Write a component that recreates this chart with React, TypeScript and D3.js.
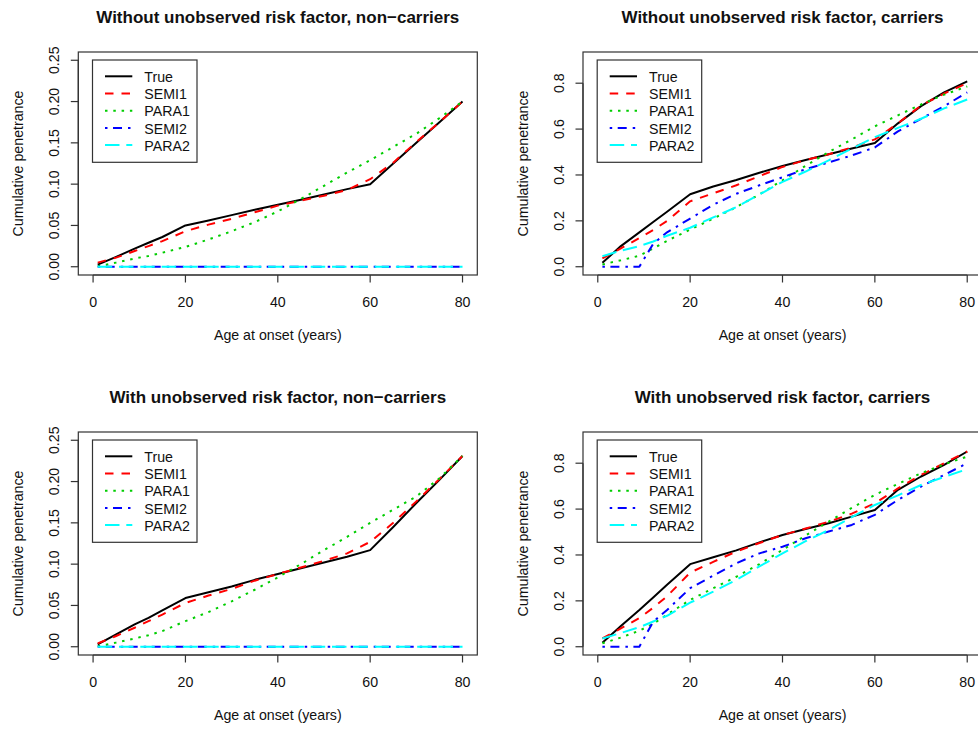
import React, { useEffect } from "react";
import * as d3 from "d3";

// ---------- DATA ----------
const AGES = [1, 5, 9, 12, 15, 20, 25, 30, 35, 40, 45, 50, 55, 60, 65, 70, 75, 80];
const SERIES_NAMES = ["True", "SEMI1", "PARA1", "SEMI2", "PARA2"];
const X_TICKS = [0, 20, 40, 60, 80];
const Y_TICKS_NC = [0, 0.05, 0.1, 0.15, 0.2, 0.25];
const Y_TICKS_C = [0, 0.2, 0.4, 0.6, 0.8];
const X_RANGE = [0, 80];
const Y_RANGE_NC = [0, 0.25];
const Y_RANGE_C = [0, 0.9];

const TITLES = [
  "Without unobserved risk factor, non\u2212carriers",
  "Without unobserved risk factor, carriers",
  "With unobserved risk factor, non\u2212carriers",
  "With unobserved risk factor, carriers",
];
const X_LABEL = "Age at onset (years)";
const Y_LABEL = "Cumulative penetrance";

// Panel 1: without unobserved risk factor, non-carriers
const WO_NC_TRUE = [0.0025, 0.012, 0.022, 0.029, 0.036, 0.05, 0.056, 0.0625, 0.069, 0.075, 0.081, 0.0875, 0.094, 0.1, 0.125, 0.15, 0.175, 0.2];
const WO_NC_SEMI1 = [0.005, 0.011, 0.019, 0.025, 0.031, 0.043, 0.051, 0.058, 0.066, 0.074, 0.08, 0.086, 0.093, 0.106, 0.126, 0.151, 0.175, 0.2];
const WO_NC_PARA1 = [0.0005, 0.005, 0.01, 0.013, 0.017, 0.024, 0.033, 0.043, 0.054, 0.067, 0.082, 0.098, 0.114, 0.129, 0.145, 0.161, 0.18, 0.2];
const WO_NC_SEMI2 = [0, 0, 0, 0, 0, 0, 0, 0, 0, 0, 0, 0, 0, 0, 0, 0, 0, 0];
const WO_NC_PARA2 = [0, 0, 0, 0, 0, 0, 0, 0, 0, 0, 0, 0, 0, 0, 0, 0, 0, 0];

// Panel 2: without unobserved risk factor, carriers
const WO_C_TRUE = [0.017, 0.09, 0.15, 0.195, 0.24, 0.316, 0.35, 0.378, 0.41, 0.439, 0.465, 0.49, 0.515, 0.539, 0.625, 0.7, 0.76, 0.808];
const WO_C_SEMI1 = [0.036, 0.08, 0.125, 0.16, 0.2, 0.285, 0.32, 0.355, 0.395, 0.435, 0.465, 0.49, 0.52, 0.555, 0.625, 0.703, 0.755, 0.8];
const WO_C_PARA1 = [0.01, 0.028, 0.048, 0.08, 0.113, 0.162, 0.21, 0.26, 0.315, 0.377, 0.44, 0.5, 0.555, 0.612, 0.66, 0.707, 0.75, 0.786];
const WO_C_SEMI2 = [0, 0, 0, 0.1, 0.15, 0.21, 0.27, 0.318, 0.355, 0.39, 0.425, 0.455, 0.485, 0.52, 0.59, 0.645, 0.7, 0.76];
const WO_C_PARA2 = [0.046, 0.07, 0.09, 0.11, 0.135, 0.17, 0.215, 0.26, 0.315, 0.37, 0.415, 0.464, 0.515, 0.565, 0.605, 0.645, 0.69, 0.729];

// Panel 3: with unobserved risk factor, non-carriers
const W_NC_TRUE = [0.003, 0.015, 0.027, 0.035, 0.044, 0.059, 0.066, 0.073, 0.081, 0.088, 0.095, 0.102, 0.109, 0.117, 0.145, 0.174, 0.202, 0.231];
const W_NC_SEMI1 = [0.004, 0.013, 0.023, 0.031, 0.039, 0.053, 0.062, 0.07, 0.08, 0.088, 0.096, 0.104, 0.113, 0.127, 0.15, 0.176, 0.203, 0.231];
const W_NC_PARA1 = [0.0005, 0.005, 0.01, 0.014, 0.019, 0.031, 0.042, 0.055, 0.069, 0.084, 0.1, 0.117, 0.133, 0.15, 0.166, 0.182, 0.204, 0.231];
const W_NC_SEMI2 = [0, 0, 0, 0, 0, 0, 0, 0, 0, 0, 0, 0, 0, 0, 0, 0, 0, 0];
const W_NC_PARA2 = [0, 0, 0, 0, 0, 0, 0, 0, 0, 0, 0, 0, 0, 0, 0, 0, 0, 0];

// Panel 4: with unobserved risk factor, carriers
const W_C_TRUE = [0.017, 0.09, 0.16, 0.215, 0.27, 0.36, 0.39, 0.42, 0.455, 0.487, 0.513, 0.538, 0.567, 0.596, 0.684, 0.742, 0.793, 0.851];
const W_C_SEMI1 = [0.036, 0.08, 0.125, 0.17, 0.22, 0.323, 0.37, 0.415, 0.452, 0.487, 0.515, 0.545, 0.58, 0.625, 0.69, 0.749, 0.8, 0.851];
const W_C_PARA1 = [0.015, 0.04, 0.07, 0.1, 0.14, 0.204, 0.255, 0.305, 0.36, 0.422, 0.485, 0.545, 0.605, 0.662, 0.71, 0.756, 0.795, 0.829];
const W_C_SEMI2 = [0, 0, 0, 0.109, 0.16, 0.255, 0.31, 0.364, 0.407, 0.436, 0.473, 0.502, 0.531, 0.575, 0.64, 0.698, 0.749, 0.8];
const W_C_PARA2 = [0.036, 0.06, 0.085, 0.11, 0.135, 0.192, 0.24, 0.291, 0.35, 0.407, 0.46, 0.509, 0.565, 0.618, 0.66, 0.705, 0.74, 0.774];

// ---------- STYLE ----------
const COLORS = ["#000000", "#FF0000", "#00CD00", "#0000FF", "#00FFFF"];
const DASHES = ["", "8.5 8", "2.5 5.8", "2.5 5.5 9 6", "14.5 6.8"];
const FONT = "'Liberation Sans', Arial, Helvetica, sans-serif";

const BOX_W = 399;
const BOX_H = 223;

type PanelDef = {
  title: string;
  bx: number;
  by: number;
  series: number[][];
  yRange: number[];
  yTicks: number[];
  digits: number;
};

const PANELS: PanelDef[] = [
  { title: TITLES[0], bx: 78.3, by: 52, series: [WO_NC_TRUE, WO_NC_SEMI1, WO_NC_PARA1, WO_NC_SEMI2, WO_NC_PARA2], yRange: Y_RANGE_NC, yTicks: Y_TICKS_NC, digits: 2 },
  { title: TITLES[1], bx: 583, by: 52, series: [WO_C_TRUE, WO_C_SEMI1, WO_C_PARA1, WO_C_SEMI2, WO_C_PARA2], yRange: Y_RANGE_C, yTicks: Y_TICKS_C, digits: 1 },
  { title: TITLES[2], bx: 78.3, by: 432, series: [W_NC_TRUE, W_NC_SEMI1, W_NC_PARA1, W_NC_SEMI2, W_NC_PARA2], yRange: Y_RANGE_NC, yTicks: Y_TICKS_NC, digits: 2 },
  { title: TITLES[3], bx: 583, by: 432, series: [W_C_TRUE, W_C_SEMI1, W_C_PARA1, W_C_SEMI2, W_C_PARA2], yRange: Y_RANGE_C, yTicks: Y_TICKS_C, digits: 1 },
];

function Panel({ p, idx }: { p: PanelDef; idx: number }) {
  const xr = X_RANGE[1] - X_RANGE[0];
  const yr = p.yRange[1] - p.yRange[0];
  const x = d3
    .scaleLinear()
    .domain([X_RANGE[0] - 0.04 * xr, X_RANGE[1] + 0.04 * xr])
    .range([p.bx, p.bx + BOX_W]);
  const y = d3
    .scaleLinear()
    .domain([p.yRange[0] - 0.04 * yr, p.yRange[1] + 0.04 * yr])
    .range([p.by + BOX_H, p.by]);
  const line = d3
    .line<number>()
    .x((_, i) => x(AGES[i]))
    .y((v) => y(v));
  const clipId = `clip-${idx}`;
  const bottom = p.by + BOX_H;
  const cx = p.bx + BOX_W / 2;
  const textColor = "#111";
  return (
    <g>
      <defs>
        <clipPath id={clipId}>
          <rect x={p.bx} y={p.by} width={BOX_W} height={BOX_H} />
        </clipPath>
      </defs>
      {/* title */}
      <text x={cx} y={p.by - 29} textAnchor="middle" fontFamily={FONT} fontWeight="bold" fontSize={17} fill={textColor}>
        {p.title}
      </text>
      {/* series */}
      <g clipPath={`url(#${clipId})`}>
        {p.series.map((vals, i) => (
          <path
            key={i}
            d={line(vals) || ""}
            fill="none"
            stroke={COLORS[i]}
            strokeWidth={2}
            strokeDasharray={DASHES[i] || undefined}
            strokeLinejoin="round"
          />
        ))}
      </g>
      {/* box */}
      <rect x={p.bx} y={p.by} width={BOX_W} height={BOX_H} fill="none" stroke="#333" strokeWidth={1.2} />
      {/* x axis */}
      <line x1={x(X_TICKS[0])} x2={x(X_TICKS[X_TICKS.length - 1])} y1={bottom} y2={bottom} stroke="#333" strokeWidth={1.2} />
      {X_TICKS.map((t) => (
        <g key={`xt${t}`}>
          <line x1={x(t)} x2={x(t)} y1={bottom} y2={bottom + 7.5} stroke="#333" strokeWidth={1.2} />
          <text x={x(t)} y={bottom + 31.5} textAnchor="middle" fontFamily={FONT} fontSize={14.2} fill={textColor}>
            {t}
          </text>
        </g>
      ))}
      {/* y axis */}
      <line x1={p.bx} x2={p.bx} y1={y(p.yTicks[0])} y2={y(p.yTicks[p.yTicks.length - 1])} stroke="#333" strokeWidth={1.2} />
      {p.yTicks.map((t) => (
        <g key={`yt${t}`}>
          <line x1={p.bx - 7.5} x2={p.bx} y1={y(t)} y2={y(t)} stroke="#333" strokeWidth={1.2} />
          <text
            transform={`translate(${p.bx - 19.5},${y(t)}) rotate(-90)`}
            textAnchor="middle"
            fontFamily={FONT}
            fontSize={14.2}
            fill={textColor}
          >
            {t.toFixed(p.digits)}
          </text>
        </g>
      ))}
      {/* axis labels */}
      <text x={cx} y={bottom + 64.5} textAnchor="middle" fontFamily={FONT} fontSize={14.2} fill={textColor}>
        {X_LABEL}
      </text>
      <text
        transform={`translate(${p.bx - 55},${p.by + BOX_H / 2}) rotate(-90)`}
        textAnchor="middle"
        fontFamily={FONT}
        fontSize={14.2}
        fill={textColor}
      >
        {Y_LABEL}
      </text>
      {/* legend */}
      <rect x={p.bx + 14.2} y={p.by + 8} width={104.5} height={102.3} fill="#fff" stroke="#333" strokeWidth={1.2} />
      {SERIES_NAMES.map((name, i) => {
        const ry = p.by + 24.3 + i * 17.2;
        return (
          <g key={name}>
            <line
              x1={p.bx + 26.7}
              x2={p.bx + 54}
              y1={ry}
              y2={ry}
              stroke={COLORS[i]}
              strokeWidth={2}
              strokeDasharray={DASHES[i] || undefined}
            />
            <text x={p.bx + 66} y={ry + 5.6} fontFamily={FONT} fontSize={14.2} fill={textColor}>
              {name}
            </text>
          </g>
        );
      })}
    </g>
  );
}

export default function App() {
  useEffect(() => {
    document.body.style.margin = "0";
    document.body.style.background = "#fff";
  }, []);
  return (
    <svg
      width={978}
      height={731}
      viewBox="0 0 978 731"
      style={{ position: "absolute", left: 0, top: 0, display: "block", background: "#fff" }}
    >
      <rect x={0} y={0} width={978} height={731} fill="#fff" />
      {PANELS.map((p, i) => (
        <Panel key={i} p={p} idx={i} />
      ))}
    </svg>
  );
}
